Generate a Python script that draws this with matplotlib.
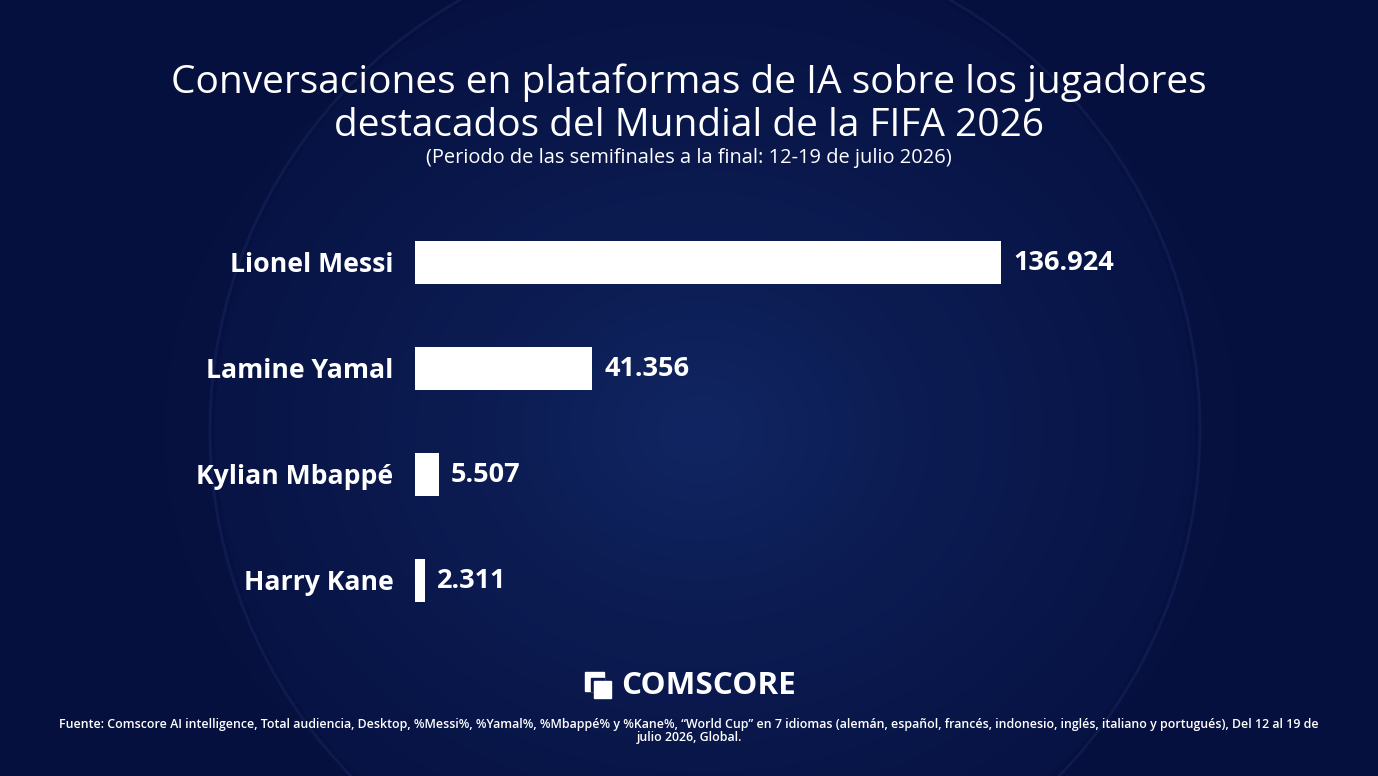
import numpy as np
import matplotlib.pyplot as plt
from matplotlib.patches import Rectangle, Circle

players = ["Lionel Messi", "Lamine Yamal", "Kylian Mbappé", "Harry Kane"]
conversations = [136924, 41356, 5507, 2311]
value_labels = ["136.924", "41.356", "5.507", "2.311"]

title = ("Conversaciones en plataformas de IA sobre los jugadores\n"
         "destacados del Mundial de la FIFA 2026")
subtitle = "(Periodo de las semifinales a la final: 12-19 de julio 2026)"
source = ("Fuente: Comscore AI intelligence, Total audiencia, Desktop, %Messi%, %Yamal%, "
          "%Mbappé% y %Kane%, “World Cup” en 7 idiomas (alemán, español, francés, indonesio, "
          "inglés, italiano y portugués), Del 12 al 19 de\njulio 2026, Global.")

W, H = 1378, 776
FONT = "Open Sans"
plt.rcParams["font.family"] = [FONT, "DejaVu Sans"]

fig = plt.figure(figsize=(W / 100, H / 100), dpi=100)

# ── background: navy with a soft glow where the ball sits ──
bg = fig.add_axes([0, 0, 1, 1])
yy, xx = np.mgrid[0:H, 0:W]
d = np.sqrt(((xx - 700) / 620.0) ** 2 + ((yy - 430) / 520.0) ** 2)
base = np.array([6, 16, 62]) / 255.0
glow = np.array([16, 36, 96]) / 255.0
t = np.clip(1 - d, 0, 1) ** 1.5
img = base[None, None, :] * (1 - t[..., None]) + glow[None, None, :] * t[..., None]
bg.imshow(img, extent=[0, W, H, 0], aspect="auto")
bg.add_patch(Circle((705, 430), 495, fill=False, ec="#3a5aa8", lw=2, alpha=0.15))
bg.add_patch(Circle((705, 430), 490, fill=True, fc="#2a4a9a", alpha=0.05))
bg.set_xlim(0, W)
bg.set_ylim(H, 0)
bg.axis("off")

# ── bars ──
ax_left, ax_right = 415, 415 + 586 * 150000 / 136924
ax_top, ax_bot = 209.5, 633.5
ax = fig.add_axes([ax_left / W, 1 - ax_bot / H, (ax_right - ax_left) / W, (ax_bot - ax_top) / H])
ax.set_facecolor("none")
y = np.arange(len(players))
ax.barh(y, conversations, height=0.41, color="white")
ax.set_xlim(0, 150000)
ax.set_ylim(len(players) - 0.5, -0.5)
ax.set_yticks(y)
ax.set_yticklabels(players, fontsize=19.2, fontweight="bold", color="white")
ax.tick_params(axis="y", length=0, pad=15.5)
ax.set_xticks([])
for s in ax.spines.values():
    s.set_visible(False)

for yi, val, lab in zip(y, conversations, value_labels):
    ax.annotate(lab, (val, yi), xytext=(9, 0), textcoords="offset points",
                va="center", ha="left", fontsize=19.5, fontweight="bold", color="white")

# ── texts ──
fig.text(0.5, 1 - 104 / H, title, ha="center", va="center", fontsize=28,
         color="white", linespacing=1.18)
fig.text(0.5, 1 - 158 / H, subtitle, ha="center", va="center", fontsize=14.4, color="white")

# logo
bg.add_patch(Rectangle((585, 672), 19, 19, color="white"))
bg.add_patch(Rectangle((591, 678), 13, 13, color="#0a1850"))
bg.add_patch(Rectangle((594, 681), 17, 17, color="white"))
bg.text(621, 686, "COMSCORE", ha="left", va="center", fontsize=22.6,
        fontweight="bold", color="white")

fig.text(0.5, 1 - 731 / H, source, ha="center", va="center", fontsize=8.95,
         color="white", fontweight="semibold", linespacing=0.95)

fig.savefig("out.png", dpi=100)
